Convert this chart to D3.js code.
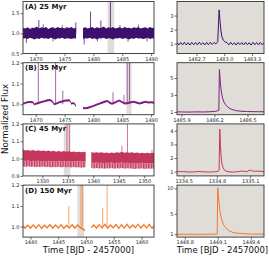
<!DOCTYPE html>
<html>
<head>
<meta charset="utf-8">
<script src="https://cdn.jsdelivr.net/npm/d3@7"></script>
<style>
  body { margin: 0; background: #fff; }
  svg { display: block; }
  text { font-family: "DejaVu Sans", sans-serif; }
</style>
</head>
<body>
<svg id="chart" width="269" height="259"></svg>
<script>
// ---- panel text / ticks ----
const panelLabels = ['(A) 25 Myr', '(B) 35 Myr', '(C) 45 Myr', '(D) 150 Myr'];
const lineColors = ['#3d0f6e', '#7e1e7b', '#c4365c', '#f47a2c'];

const leftXDomains = [[1467.8, 1490.5], [1467.8, 1490.5], [1326.2, 1351.9], [1438.65, 1462.25]];
const leftYDomains = [[0.5, 1.79], [0.95, 1.2], [0.9, 1.2], [0.95, 1.2]];
const leftXTicks = [
  [1470, 1475, 1480, 1485, 1490],
  [1470, 1475, 1480, 1485, 1490],
  [1330, 1335, 1340, 1345, 1350],
  [1440, 1445, 1450, 1455, 1460]
];
const leftYTicks = [[0.5, 1.0, 1.5], [1.0, 1.1, 1.2], [0.9, 1.0, 1.1, 1.2], [1.0, 1.1, 1.2]];

// grey window marking the zoomed flare
const flareWindows = [[1482.45, 1483.6], [1485.75, 1486.62], [1334.2, 1335.5], [1448.45, 1449.65]];

const zoomXDomains = [[1482.49, 1483.43], [1485.86, 1486.65], [1334.44, 1335.225], [1448.73, 1449.52]];
const zoomYDomains = [[0.3, 4.0], [0.68, 6.8], [0.69, 4.5], [0.45, 10.63]];
const zoomXTicks = [[1482.7, 1483.0, 1483.3], [1485.9, 1486.2, 1486.5], [1334.5, 1334.8, 1335.1], [1448.8, 1449.1, 1449.4]];
const zoomYTicks = [[1, 2, 3], [1, 3, 5], [1, 2, 3, 4], [1, 5, 10]];

// ---- (A) 25 Myr : noisy light curve as upper/lower envelope ----
const tA = [1467.8,1468.2,1468.6,1469.0,1469.4,1469.8,1470.2,1470.6,1471.0,1471.4,1471.8,1472.2,1472.6,1473.0,1473.4,1473.8,1474.2,1474.6,1475.0,1475.4,1475.8,1476.2,1476.6,1477.0,
  null,
  1478.2,1478.6,1479.0,1479.4,1479.8,1480.2,1480.6,1481.0,1481.4,1481.8,1482.2,1482.6,1483.0,1483.4,1483.8,1484.2,1484.6,1485.0,1485.4,1485.8,1486.2,1486.6,1487.0,1487.4,1487.8,1488.2,1488.6,1489.0,1489.4,1489.8,1490.2,1490.5];
const hiA = [1.14,1.12,1.15,1.11,1.14,1.13,1.17,1.12,1.15,1.13,1.16,1.11,1.14,1.15,1.12,1.16,1.13,1.14,1.12,1.15,1.13,1.16,1.12,1.14,
  null,
  1.13,1.15,1.12,1.14,1.16,1.12,1.15,1.13,1.14,1.17,1.12,1.15,1.13,1.16,1.12,1.14,1.15,1.12,1.16,1.13,1.14,1.12,1.15,1.13,1.16,1.12,1.14,1.15,1.12,1.16,1.13,1.14];
const loA = [0.87,0.88,0.86,0.89,0.87,0.85,0.88,0.86,0.89,0.87,0.88,0.86,0.89,0.87,0.85,0.88,0.87,0.89,0.86,0.88,0.87,0.86,0.88,0.87,
  null,
  0.86,0.88,0.87,0.89,0.86,0.88,0.85,0.88,0.87,0.89,0.86,0.88,0.87,0.85,0.88,0.87,0.89,0.86,0.88,0.87,0.85,0.88,0.86,0.89,0.87,0.88,0.86,0.87,0.89,0.86,0.88,0.87];
const outliersA = [[1468.4,0.76],[1471.3,1.22],[1473.0,0.80],[1474.6,1.20],[1478.4,0.72],[1480.7,0.80],[1484.6,1.21],[1486.0,0.79],[1487.8,1.22],[1489.3,0.80]];
const flaresA = [[1470.55,1.33],[1476.95,1.27],[1479.5,1.54],[1481.3,1.32],[1482.95,3.4]];

// ---- (B) 35 Myr : spot modulation (centre of the band) ----
const tB = [1467.8,1468.1,1468.5,1469.0,1469.5,1469.8,1470.0,1470.5,1471.0,1471.5,1472.0,1472.5,1472.9,1473.2,1473.6,1474.0,1474.5,1475.0,1475.5,1475.9,1476.2,1476.5,1476.8,1477.0,
  null,
  1478.2,1478.6,1479.0,1479.5,1480.0,1480.5,1481.0,1481.5,1482.0,1482.4,1482.8,1483.2,1483.6,1484.0,1484.5,1485.0,1485.5,1486.0,1486.5,1487.0,1487.5,1488.0,1488.5,1489.0,1489.5,1490.0,1490.5];
const fluxB = [1.004,1.005,1.010,1.011,1.010,0.999,1.003,1.007,1.011,1.015,1.019,1.021,1.013,1.000,1.004,1.009,1.013,1.017,1.019,1.018,1.003,1.006,1.000,0.990,
  null,
  0.982,0.981,0.983,0.987,0.992,0.998,1.003,1.008,1.013,1.016,1.008,1.003,1.007,1.012,1.018,1.010,1.004,1.006,1.010,1.012,1.008,1.004,1.008,1.012,1.009,1.010,1.008];
const scatterB = 0.005;
const flaresB = [[1470.45,1.25],[1473.45,1.25],[1474.7,1.066],[1483.4,1.058],[1485.3,1.045],[1485.85,1.25],[1486.25,6.0]];

// ---- (C) 45 Myr : fast pulsation, dark core + striped dips ----
const tC = [1326.2,1326.7,1327.2,1327.7,1328.2,1328.7,1329.2,1329.7,1330.2,1330.7,1331.2,1331.7,1332.2,1332.7,1333.2,1333.7,1334.2,1334.7,1335.2,1335.7,1336.2,1336.7,1337.2,1337.7,1338.2,1338.5,
  null,
  1339.6,1340.1,1340.6,1341.1,1341.6,1342.1,1342.6,1343.1,1343.6,1344.1,1344.6,1345.1,1345.6,1346.1,1346.6,1347.1,1347.6,1348.1,1348.6,1349.1,1349.6,1350.1,1350.6,1351.1,1351.6,1352.0];
const hiC = [1.052,1.047,1.050,1.045,1.049,1.044,1.048,1.043,1.047,1.042,1.046,1.041,1.045,1.040,1.044,1.040,1.043,1.039,1.042,1.038,1.041,1.037,1.040,1.036,1.039,1.037,
  null,
  1.038,1.034,1.037,1.033,1.036,1.032,1.035,1.031,1.035,1.032,1.036,1.033,1.040,1.034,1.037,1.033,1.036,1.032,1.035,1.031,1.034,1.030,1.033,1.031,1.034,1.032];
const midC = [0.990,0.986,0.989,0.985,0.988,0.984,0.987,0.985,0.988,0.984,0.987,0.983,0.986,0.984,0.987,0.983,0.986,0.984,0.985,0.982,0.985,0.983,0.984,0.981,0.984,0.982,
  null,
  0.978,0.975,0.977,0.974,0.976,0.973,0.976,0.974,0.977,0.973,0.976,0.974,0.977,0.973,0.976,0.974,0.975,0.972,0.975,0.973,0.976,0.972,0.975,0.973,0.974,0.973];
const loC = [0.956,0.952,0.955,0.951,0.954,0.950,0.953,0.951,0.954,0.950,0.953,0.949,0.952,0.950,0.953,0.949,0.952,0.950,0.951,0.948,0.951,0.949,0.950,0.947,0.950,0.948,
  null,
  0.946,0.943,0.945,0.942,0.944,0.941,0.944,0.942,0.945,0.941,0.944,0.942,0.945,0.941,0.944,0.942,0.943,0.940,0.943,0.941,0.944,0.940,0.943,0.941,0.942,0.941];
const flaresC = [[1334.83,4.12],[1335.3,1.25],[1345.6,1.075],[1346.7,1.25],[1351.5,1.05]];

// ---- (D) 150 Myr : ~1 d wiggle ----
const tD = [1438.65,1439.0,1439.5,1440.0,1440.5,1441.0,1441.5,1442.0,1442.5,1443.0,1443.5,1444.0,1444.5,1445.0,1445.5,1446.0,1446.5,1447.0,1447.5,1448.0,1448.5,1449.0,1449.4,1449.8,
  null,
  1450.95,1451.4,1451.9,1452.4,1452.9,1453.4,1453.9,1454.4,1454.9,1455.4,1455.9,1456.4,1456.9,1457.4,1457.9,1458.4,1458.9,1459.4,1459.9,1460.4,1460.9,1461.4,1461.9,1462.25];
const fluxD = [1.004,0.993,1.007,0.993,1.008,0.994,1.009,0.992,1.007,0.995,1.010,0.993,1.008,0.994,1.009,0.992,1.006,0.994,1.010,0.993,1.008,0.995,0.990,0.982,
  null,
  0.996,1.008,0.993,1.009,0.994,1.011,0.993,1.008,0.995,1.010,0.992,1.009,0.994,1.011,0.993,1.008,0.995,1.012,0.993,1.009,0.994,1.011,0.992,1.004];
const scatterD = 0.005;
const flaresD = [[1446.9,1.10],[1449.1,10.1],[1449.35,1.25],[1453.0,1.09],[1453.8,1.25]];

// ---- zoomed flares ----
const tZA = [1482.49,1482.51,1482.53,1482.55,1482.57,1482.59,1482.61,1482.63,1482.65,1482.67,1482.69,1482.71,1482.73,1482.75,1482.77,1482.79,1482.81,1482.83,1482.85,1482.87,1482.89,1482.91,1482.93,
  1482.945,1482.955,1482.965,1482.975,1482.99,1483.01,
  1483.03,1483.05,1483.07,1483.09,1483.11,1483.13,1483.15,1483.17,1483.19,1483.21,1483.23,1483.25,1483.27,1483.29,1483.31,1483.33,1483.35,1483.37,1483.39,1483.41,1483.43];
const fZA = [1.09,0.91,1.08,0.92,1.10,0.91,1.07,0.90,1.09,0.92,1.08,0.91,1.10,0.93,1.07,0.91,1.09,0.92,1.10,0.94,1.09,0.98,1.14,
  3.40,2.60,1.90,1.50,1.25,1.12,
  1.08,0.91,1.10,0.92,1.07,0.90,1.09,0.93,1.08,0.91,1.10,0.92,1.07,0.90,1.09,0.92,1.08,0.91,1.09,0.92,1.07];

const tZB = [1485.86,1485.90,1485.95,1486.00,1486.05,1486.10,1486.15,1486.20,1486.22,1486.24,1486.245,1486.255,1486.265,1486.275,1486.285,1486.30,1486.32,1486.34,1486.37,1486.40,1486.45,1486.50,1486.55,1486.60,1486.65];
const fZB = [1.00,1.01,0.99,1.00,1.01,1.00,1.02,1.06,1.10,1.20,6.00,4.20,3.20,2.60,2.20,1.85,1.60,1.40,1.25,1.15,1.08,1.05,1.04,1.03,1.03];

const tZC = [1334.44,1334.47,1334.50,1334.53,1334.56,1334.60,1334.63,1334.66,1334.70,1334.73,1334.76,1334.79,1334.81,1334.82,1334.826,1334.832,1334.838,1334.845,1334.855,1334.87,1334.89,1334.92,1334.95,1334.98,1335.01,1335.04,1335.07,1335.09,1335.10,1335.12,1335.15,1335.18,1335.225];
const fZC = [1.02,1.00,1.01,0.98,0.97,0.99,1.01,1.00,0.98,0.97,0.99,1.00,1.02,1.10,4.12,3.00,2.10,1.60,1.30,1.10,1.02,0.98,0.97,0.99,1.03,1.04,1.00,1.08,1.12,1.05,1.03,1.04,1.00];

const tZD = [1448.73,1448.78,1448.83,1448.88,1448.93,1448.98,1449.03,1449.07,1449.095,1449.10,1449.11,1449.12,1449.135,1449.15,1449.17,1449.20,1449.24,1449.29,1449.35,1449.40,1449.45,1449.52];
const fZD = [1.00,1.00,1.01,1.00,1.00,1.01,1.02,1.03,1.05,10.1,7.5,5.5,4.0,3.0,2.3,1.7,1.35,1.18,1.10,1.06,1.04,1.03];

// ---- layout ----
const leftRange = [23, 154];
const rightRange = [177, 264];
const panelTop = 1.5, panelStep = 61.2, panelH = 52;
const windowGrey = '#e0ddd8';
const axisColor = '#333';

const svg = d3.select('#chart');

// vertical hatching used for the pulsating star's dips
const defs = svg.append('defs');
const pat = defs.append('pattern')
  .attr('id', 'stripesC')
  .attr('patternUnits', 'userSpaceOnUse')
  .attr('width', 2.6).attr('height', 10);
pat.append('rect').attr('width', 2.6).attr('height', 10).attr('fill', '#e3a1b0');
pat.append('rect').attr('width', 1.3).attr('height', 10).attr('fill', lineColors[2]);

function zip(t, ...cols) {
  return t.map((d, k) => ({ t: d, v: cols.map(c => c[k]) }));
}

function styleAxis(g) {
  g.select('.domain').remove();
  g.selectAll('.tick line').attr('stroke', axisColor).attr('stroke-width', 0.7);
  g.selectAll('.tick text').attr('font-size', 5).attr('fill', '#222');
}

function drawBand(g, x, y, rows, fill, opacity) {
  g.append('path')
    .datum(rows)
    .attr('d', d3.area()
      .defined(d => d.t != null)
      .x(d => x(d.t))
      .y0(d => y(d.v[1]))
      .y1(d => y(d.v[0])))
    .attr('fill', fill)
    .attr('fill-opacity', opacity);
}

function drawSpikes(g, x, y, list, color, width) {
  g.selectAll(null)
    .data(list)
    .join('line')
    .attr('x1', d => x(d[0]))
    .attr('x2', d => x(d[0]))
    .attr('y1', y(1.0))
    .attr('y2', d => y(d[1]))
    .attr('stroke', color)
    .attr('stroke-opacity', 0.85)
    .attr('stroke-width', width);
}

function frame(x0, x1, y0, y1) {
  svg.append('rect')
    .attr('x', x0).attr('y', y0)
    .attr('width', x1 - x0).attr('height', y1 - y0)
    .attr('fill', 'none')
    .attr('stroke', axisColor)
    .attr('stroke-width', 0.9);
}

for (let i = 0; i < 4; i++) {
  const top = panelTop + i * panelStep;
  const bottom = top + panelH;
  const color = lineColors[i];

  // left: full light curve
  const x = d3.scaleLinear().domain(leftXDomains[i]).range(leftRange);
  const y = d3.scaleLinear().domain(leftYDomains[i]).range([bottom, top]);

  svg.append('clipPath').attr('id', 'clipL' + i)
    .append('rect').attr('x', leftRange[0]).attr('y', top)
    .attr('width', leftRange[1] - leftRange[0]).attr('height', panelH);

  const g = svg.append('g').attr('clip-path', `url(#clipL${i})`);

  g.append('rect')
    .attr('x', x(flareWindows[i][0]))
    .attr('y', top)
    .attr('width', x(flareWindows[i][1]) - x(flareWindows[i][0]))
    .attr('height', panelH)
    .attr('fill', windowGrey);

  if (i === 0) {
    drawBand(g, x, y, zip(tA, hiA, loA), color, 1);
    drawSpikes(g, x, y, outliersA, color, 0.8);
    drawSpikes(g, x, y, flaresA, color, 0.9);
  } else if (i === 1) {
    const rows = zip(tB, fluxB).map(d => ({ t: d.t, v: d.t == null ? [null, null] : [d.v[0] + scatterB, d.v[0] - scatterB] }));
    drawBand(g, x, y, rows, color, 1);
    drawSpikes(g, x, y, flaresB, color, 0.8);
  } else if (i === 2) {
    drawBand(g, x, y, zip(tC, midC, loC), 'url(#stripesC)', 1);
    drawBand(g, x, y, zip(tC, hiC, midC), color, 1);
    drawSpikes(g, x, y, flaresC, color, 0.8);
  } else {
    const rows = zip(tD, fluxD).map(d => ({ t: d.t, v: d.t == null ? [null, null] : [d.v[0] + scatterD, d.v[0] - scatterD] }));
    drawBand(g, x, y, rows, color, 1);
    drawSpikes(g, x, y, flaresD, color, 0.8);
  }

  frame(leftRange[0], leftRange[1], top, bottom);

  svg.append('g')
    .attr('transform', `translate(0,${bottom})`)
    .call(d3.axisBottom(x).tickValues(leftXTicks[i]).tickSize(2.5).tickPadding(1).tickFormat(d3.format('d')))
    .call(styleAxis);

  svg.append('g')
    .attr('transform', `translate(${leftRange[0]},0)`)
    .call(d3.axisLeft(y).tickValues(leftYTicks[i]).tickSize(2.5).tickPadding(1).tickFormat(d3.format('.1f')))
    .call(styleAxis);

  svg.append('text')
    .attr('x', leftRange[0] + 2)
    .attr('y', top + 7.5)
    .attr('font-size', 7)
    .attr('font-weight', 'bold')
    .attr('fill', '#111')
    .text(panelLabels[i]);

  // right: zoom on the flare
  const zx = d3.scaleLinear().domain(zoomXDomains[i]).range(rightRange);
  const zy = d3.scaleLinear().domain(zoomYDomains[i]).range([bottom, top]);
  const zt = [tZA, tZB, tZC, tZD][i];
  const zf = [fZA, fZB, fZC, fZD][i];

  svg.append('clipPath').attr('id', 'clipR' + i)
    .append('rect').attr('x', rightRange[0]).attr('y', top)
    .attr('width', rightRange[1] - rightRange[0]).attr('height', panelH);

  svg.append('rect')
    .attr('x', rightRange[0]).attr('y', top)
    .attr('width', rightRange[1] - rightRange[0]).attr('height', panelH)
    .attr('fill', windowGrey);

  svg.append('g').attr('clip-path', `url(#clipR${i})`)
    .append('path')
    .datum(zt.map((d, k) => [d, zf[k]]))
    .attr('d', d3.line().x(d => zx(d[0])).y(d => zy(d[1])))
    .attr('fill', 'none')
    .attr('stroke', color)
    .attr('stroke-width', 1)
    .attr('stroke-linejoin', 'round');

  frame(rightRange[0], rightRange[1], top, bottom);

  svg.append('g')
    .attr('transform', `translate(0,${bottom})`)
    .call(d3.axisBottom(zx).tickValues(zoomXTicks[i]).tickSize(2.5).tickPadding(1).tickFormat(d3.format('.1f')))
    .call(styleAxis);

  svg.append('g')
    .attr('transform', `translate(${rightRange[0]},0)`)
    .call(d3.axisLeft(zy).tickValues(zoomYTicks[i]).tickSize(2.5).tickPadding(1).tickFormat(d3.format('d')))
    .call(styleAxis);
}

// axis titles
svg.append('text')
  .attr('transform', 'translate(8,119) rotate(-90)')
  .attr('text-anchor', 'middle')
  .attr('font-size', 8.7)
  .attr('fill', '#111')
  .text('Normalized Flux');

svg.append('text')
  .attr('x', (leftRange[0] + leftRange[1]) / 2)
  .attr('y', 253)
  .attr('text-anchor', 'middle')
  .attr('font-size', 8.5)
  .attr('fill', '#111')
  .text('Time [BJD - 2457000]');

svg.append('text')
  .attr('x', (rightRange[0] + rightRange[1]) / 2 + 2)
  .attr('y', 253)
  .attr('text-anchor', 'middle')
  .attr('font-size', 8.5)
  .attr('fill', '#111')
  .text('Time [BJD - 2457000]');
</script>
</body>
</html>
